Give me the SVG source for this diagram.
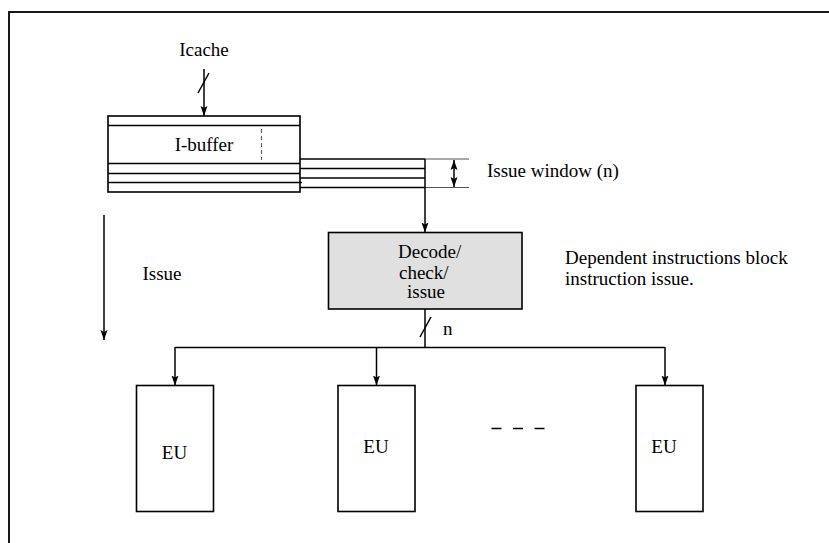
<svg xmlns="http://www.w3.org/2000/svg" width="829" height="543" viewBox="0 0 829 543">
  <defs>
    <marker id="arrow" viewBox="0 0 10 8" refX="10" refY="4" markerWidth="10" markerHeight="8" markerUnits="userSpaceOnUse" orient="auto-start-reverse">
      <path d="M0,0.5 L10,4 L0,7.5 L2,4 Z" fill="#000"/>
    </marker>
    <style>
      .ln { stroke: #000; stroke-width: 1.5; fill: none; }
      .thin { stroke: #555; stroke-width: 1.2; fill: none; }
      .box { stroke: #000; stroke-width: 1.6; fill: #fff; }
      .txt { font-family: "Liberation Serif", "Times New Roman", serif; font-size: 19px; fill: #000; }
      .mid { text-anchor: middle; }
    </style>
  </defs>
  <rect width="829" height="543" fill="#fff"/>

  <!-- outer frame -->
  <rect x="9" y="12" width="840" height="560" fill="none" stroke="#000" stroke-width="1.8"/>

  <!-- instruction buffer -->
  <g id="ibuffer">
    <rect class="box" x="108" y="116" width="192" height="76"/>
    <line class="ln" x1="108" y1="125.5" x2="300" y2="125.5"/>
    <line class="ln" x1="108" y1="163.5" x2="300" y2="163.5"/>
    <line class="ln" x1="108" y1="173.5" x2="300" y2="173.5"/>
    <line class="ln" x1="108" y1="182.5" x2="302" y2="182.5"/>
    <line x1="261.5" y1="129" x2="261.5" y2="160" stroke="#666" stroke-width="1.2" stroke-dasharray="4,3"/>
    <text class="txt mid" x="204" y="151">I-buffer</text>
  </g>

  <!-- issue window slots -->
  <g id="window">
    <line class="ln" x1="300" y1="159" x2="425" y2="159"/>
    <line class="ln" x1="300" y1="168.5" x2="425" y2="168.5"/>
    <line class="ln" x1="300" y1="178" x2="425" y2="178"/>
    <line class="ln" x1="300" y1="187.5" x2="425" y2="187.5"/>
    <line class="thin" x1="425" y1="159" x2="469" y2="159"/>
    <line class="thin" x1="425" y1="187.5" x2="469" y2="187.5"/>
    <text class="txt" x="487" y="177">Issue window (n)</text>
  </g>

  <!-- decode / check / issue -->
  <g id="decode">
    <rect x="328.5" y="232.5" width="193.5" height="76.5" fill="#e0e0e0" stroke="#000" stroke-width="1.6"/>
    <text class="txt" x="398" y="258">Decode/</text>
    <text class="txt" x="399" y="279">check/</text>
    <text class="txt" x="407" y="298">issue</text>
  </g>

  <!-- execution units -->
  <g id="eu1">
    <rect class="box" x="136.5" y="385.5" width="77" height="126"/>
    <text class="txt mid" x="174.5" y="459">EU</text>
  </g>
  <g id="eu2">
    <rect class="box" x="338" y="385.5" width="77" height="126"/>
    <text class="txt mid" x="376" y="453">EU</text>
  </g>
  <g id="eu3">
    <rect class="box" x="636" y="385.5" width="67" height="126"/>
    <text class="txt mid" x="664" y="453">EU</text>
  </g>

  <!-- labels -->
  <g id="labels">
    <text class="txt mid" x="204" y="56">Icache</text>
    <text class="txt" x="142.5" y="280">Issue</text>
    <text class="txt" x="565" y="264">Dependent instructions block</text>
    <text class="txt" x="565" y="285">instruction issue.</text>
    <text class="txt" x="443" y="335">n</text>
    <line x1="491.5" y1="428.5" x2="545" y2="428.5" stroke="#000" stroke-width="1.3" stroke-dasharray="10,11.5"/>
  </g>

  <!-- connectors -->
  <g id="connectors">
    <!-- Icache into the buffer -->
    <line class="ln" x1="204" y1="69" x2="204" y2="116" marker-end="url(#arrow)"/>
    <line class="ln" x1="198" y1="93" x2="209" y2="73"/>
    <!-- window width indicator -->
    <line class="ln" x1="454" y1="160" x2="454" y2="187" marker-start="url(#arrow)" marker-end="url(#arrow)"/>
    <!-- window to decode -->
    <line class="ln" x1="425" y1="159" x2="425" y2="232.5" marker-end="url(#arrow)"/>
    <!-- decode to bus -->
    <line class="ln" x1="425" y1="309" x2="425" y2="347.5"/>
    <line class="ln" x1="420" y1="337" x2="431" y2="317"/>
    <!-- bus -->
    <line class="ln" x1="175" y1="347.5" x2="665" y2="347.5"/>
    <line class="ln" x1="175" y1="347" x2="175" y2="385.5" marker-end="url(#arrow)"/>
    <line class="ln" x1="376.5" y1="347" x2="376.5" y2="385.5" marker-end="url(#arrow)"/>
    <line class="ln" x1="665" y1="347" x2="665" y2="385.5" marker-end="url(#arrow)"/>
    <!-- issue direction -->
    <line class="ln" x1="104" y1="215" x2="104" y2="340" marker-end="url(#arrow)"/>
  </g>
</svg>
